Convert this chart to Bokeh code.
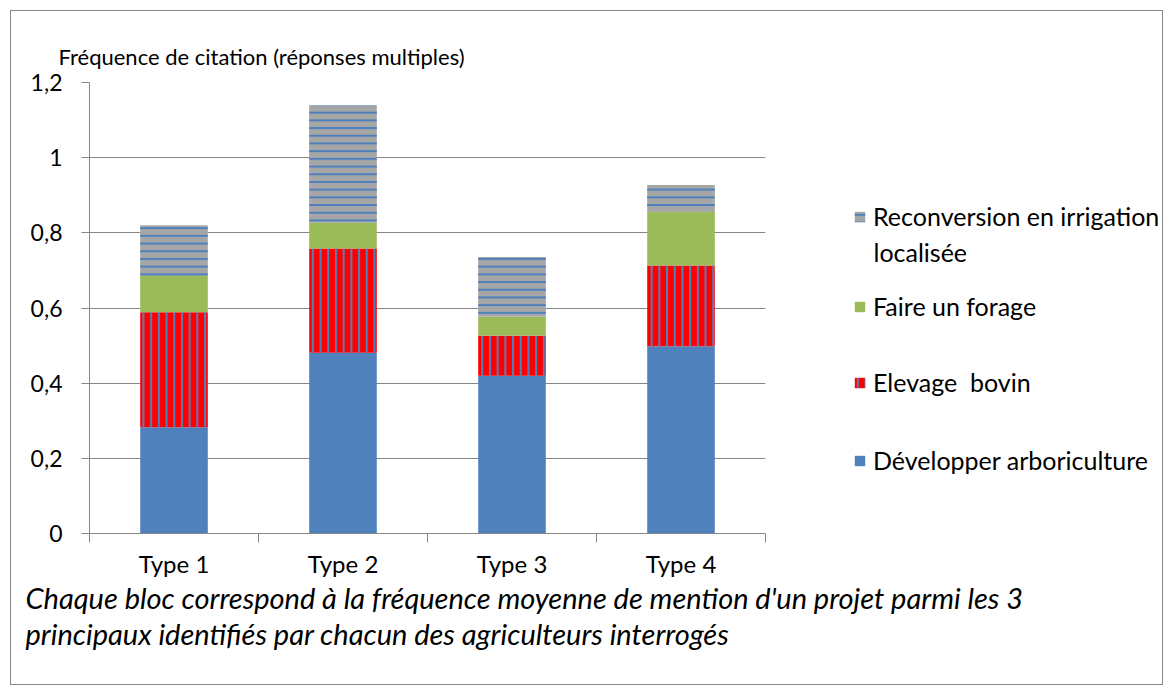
from bokeh.plotting import figure
from bokeh.models import (ColumnDataSource, Range1d, FixedTicker, CustomJSTickFormatter,
                          Legend, LegendItem, Label, Title)
from bokeh.layouts import column, row
from bokeh.embed import file_html
from bokeh.resources import INLINE
import numpy as np

# ---- data ----
types = ["Type 1", "Type 2", "Type 3", "Type 4"]
arboriculture = [0.283, 0.481, 0.420, 0.498]
elevage_bovin = [0.306, 0.277, 0.106, 0.215]
forage = [0.096, 0.069, 0.051, 0.143]
reconversion = [0.135, 0.312, 0.159, 0.071]
y_ticks = [0, 0.2, 0.4, 0.6, 0.8, 1.0, 1.2]

series_labels = ["Développer arboriculture", "Elevage  bovin", "Faire un forage",
                 "Reconversion en irrigation"]
label_cont = "localisée"
y_title = "Fréquence de citation (réponses multiples)"
caption1 = "Chaque bloc correspond à la fréquence moyenne de mention d'un projet parmi les 3"
caption2 = "principaux identifiés par chacun des agriculteurs interrogés"

FONT = "Lato"
GRID = "#868686"

W_MAIN, H_TOP = 845, 580
W_ALL, H_ALL = 1173, 695
FRAME_BOTTOM = 534  # page y of the x axis

styles = [
    dict(fill_color="#4f81bd"),
    dict(fill_color="#ff0000", hatch_pattern="|", hatch_color="#4f81bd", hatch_scale=7.7, hatch_weight=2),
    dict(fill_color="#9bbb59"),
    dict(fill_color="#a6a6a6", hatch_pattern="-", hatch_color="#4f81bd", hatch_scale=7.7, hatch_weight=2),
]


def bare(fig):
    fig.outline_line_color = None
    fig.background_fill_color = None
    fig.border_fill_color = None


# ---------------- main chart ----------------
p = figure(width=W_MAIN, height=H_TOP, output_backend="svg", toolbar_location=None,
           x_range=Range1d(0.5, 4.5), y_range=Range1d(0, 1.2),
           min_border_left=89, min_border_right=80, min_border_top=82,
           min_border_bottom=H_TOP - FRAME_BOTTOM)
bare(p)

xs = list(range(1, len(types) + 1))
layers = [arboriculture, elevage_bovin, forage, reconversion]
cum = np.cumsum(np.array(layers), axis=0)
bottoms = [np.zeros(len(types))] + [cum[i - 1] for i in range(1, len(layers))]

for i, layer in enumerate(layers):
    src = ColumnDataSource(dict(x=xs, bottom=bottoms[i], top=cum[i]))
    p.vbar(x="x", bottom="bottom", top="top", width=0.4, source=src,
           line_color=None, **styles[i])

p.xgrid.grid_line_color = None
p.ygrid.grid_line_color = GRID
p.ygrid.ticker = FixedTicker(ticks=y_ticks)

p.yaxis.ticker = FixedTicker(ticks=y_ticks)
p.yaxis.formatter = CustomJSTickFormatter(code="""
const v = Math.round(tick*10)/10; return v.toString().replace('.', ',');""")
p.yaxis.axis_line_color = GRID
p.yaxis.major_tick_line_color = GRID
p.yaxis.major_tick_out = 8
p.yaxis.major_tick_in = 0
p.yaxis.minor_tick_line_color = None
p.yaxis.major_label_standoff = 19
p.yaxis.major_label_text_font = FONT
p.yaxis.major_label_text_font_size = "23px"
p.yaxis.major_label_text_color = "black"

p.xaxis.ticker = FixedTicker(ticks=xs, minor_ticks=[0.5, 1.5, 2.5, 3.5, 4.5])
p.xaxis.major_label_overrides = {x: t for x, t in zip(xs, types)}
p.xaxis.axis_line_color = GRID
p.xaxis.major_tick_line_color = None
p.xaxis.major_tick_out = 0
p.xaxis.major_tick_in = 0
p.xaxis.minor_tick_line_color = GRID
p.xaxis.minor_tick_out = 9
p.xaxis.minor_tick_in = 0
p.xaxis.major_label_standoff = 6
p.xaxis.major_label_text_font = FONT
p.xaxis.major_label_text_font_size = "24px"
p.xaxis.major_label_text_color = "black"

p.add_layout(Title(text=y_title, align="left", offset=-31, standoff=25,
                   text_font=FONT, text_font_size="22px", text_font_style="normal",
                   text_color="black"), "above")

# ---------------- legend panel ----------------
lg_fig = figure(width=W_ALL - W_MAIN, height=H_TOP, output_backend="svg", toolbar_location=None,
                x_axis_location=None, y_axis_location=None,
                x_range=Range1d(0, 1), y_range=Range1d(0, 1),
                min_border_left=0, min_border_right=0, min_border_top=0, min_border_bottom=0)
bare(lg_fig)
lg_fig.grid.visible = False

dummy = []
for i in range(4):
    dummy.append(lg_fig.vbar(x="x", top="top", width=0.4,
                             source=ColumnDataSource(dict(x=[-10], top=[0])),
                             line_color=None, **styles[i]))

# legend item centres (page y) -> bottom-left location relative to the frame bottom
centres = {3: 217, 2: 307, 1: 383, 0: 461}
ITEM_H = 30
for idx in [3, 2, 1, 0]:
    lg = Legend(items=[LegendItem(label=series_labels[idx], renderers=[dummy[idx]])],
                location=(8, FRAME_BOTTOM - (centres[idx] + ITEM_H // 2)), orientation="vertical",
                border_line_color=None, background_fill_alpha=0,
                padding=0, margin=0, spacing=0,
                glyph_width=13, glyph_height=13, label_standoff=7, label_height=ITEM_H,
                label_text_font=FONT, label_text_font_size="25px", label_text_color="black")
    lg_fig.add_layout(lg, "center")
lg_fig.add_layout(Label(x=28, y=FRAME_BOTTOM - 252, x_units="screen", y_units="screen",
                        text=label_cont, text_font=FONT, text_font_size="25px",
                        text_baseline="middle", text_color="black"))

# ---------------- caption ----------------
hc = H_ALL - H_TOP
cap = figure(width=W_ALL, height=hc, output_backend="svg", toolbar_location=None,
             x_axis_location=None, y_axis_location=None,
             x_range=Range1d(0, 1), y_range=Range1d(0, 1),
             min_border_left=0, min_border_right=0, min_border_top=0, min_border_bottom=0)
bare(cap)
cap.grid.visible = False
for txt, yc in [(caption1, 597), (caption2, 633)]:
    cap.add_layout(Label(x=25, y=hc - (yc - H_TOP), x_units="screen", y_units="screen", text=txt,
                         text_font=FONT, text_font_size="29px", text_font_style="italic",
                         text_baseline="middle", text_color="black"))

layout = column(row(p, lg_fig, spacing=0), cap, spacing=0,
                styles={"background-color": "white",
                        "box-shadow": "inset 0 0 0 10px white, inset 0 0 0 11px #868686"})

open("out.html", "w").write(file_html(layout, INLINE))
